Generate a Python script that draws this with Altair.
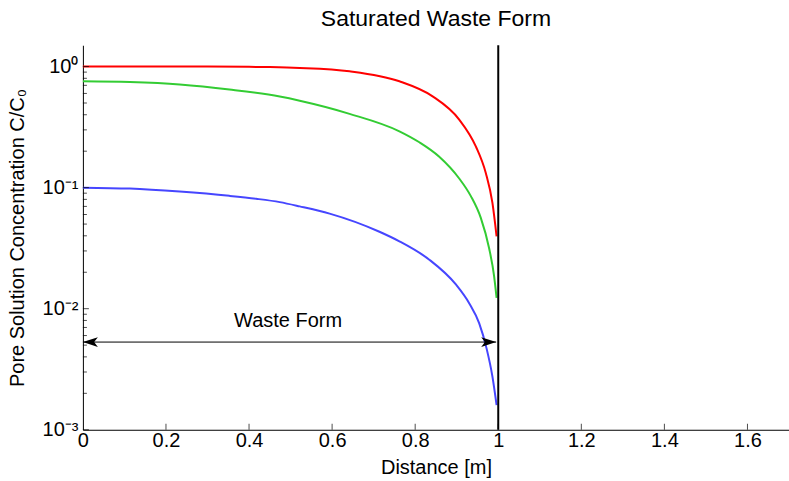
import altair as alt
import pandas as pd

# ---------------- data ----------------
series_names = ["red", "green", "blue"]
series_colors = ["#ff0000", "#33cc33", "#4646ff"]

red_x = [0.0, 0.1, 0.2, 0.3, 0.4, 0.45, 0.522, 0.642, 0.762, 0.842, 0.906, 0.946, 0.970, 0.986, 0.996]
red_c = [1.0, 1.0, 1.0, 1.0, 0.995, 0.99, 0.975, 0.915, 0.756, 0.568, 0.365, 0.219, 0.132, 0.0747, 0.0396]

green_x = [0.0, 0.113, 0.233, 0.353, 0.474, 0.522, 0.642, 0.762, 0.810, 0.858, 0.906, 0.934, 0.958, 0.978, 0.990, 0.996]
green_c = [0.757, 0.745, 0.711, 0.646, 0.565, 0.522, 0.407, 0.292, 0.237, 0.180, 0.119, 0.0851, 0.0562, 0.0316, 0.0186, 0.0123]

blue_x = [0.0, 0.113, 0.233, 0.353, 0.417, 0.474, 0.522, 0.594, 0.714, 0.762, 0.834, 0.898, 0.930, 0.954, 0.972, 0.986, 0.996]
blue_c = [0.1, 0.0982, 0.0927, 0.0855, 0.0809, 0.0759, 0.0700, 0.0610, 0.0432, 0.036, 0.0254, 0.01585, 0.0111, 0.00759, 0.00468, 0.00275, 0.0016]

x_tick_values = [0, 0.2, 0.4, 0.6, 0.8, 1.0, 1.2, 1.4, 1.6]
y_major_values = [1.0, 0.1, 0.01, 0.001]
y_major_exps = [0, -1, -2, -3]
y_tick_labels = ["10⁰", "10⁻¹", "10⁻²", "10⁻³"]
y_minor_values = [0.002, 0.003, 0.004, 0.005, 0.006, 0.007, 0.008, 0.009,
                  0.02, 0.03, 0.04, 0.05, 0.06, 0.07, 0.08, 0.09,
                  0.2, 0.3, 0.4, 0.5, 0.6, 0.7, 0.8, 0.9]

boundary_x = [1.0]
arrow_start = [0.0]
arrow_end = [0.995]
arrow_level = [0.0053]
annot_text = ["Waste Form"]
annot_x = [0.494]
annot_y = [0.0079]

title_text = "Saturated Waste Form"
x_title = "Distance [m]"
y_title = "Pore Solution Concentration C/C₀"

# ---------------- build tables ----------------
rows = []
for name, xs, cs in [("red", red_x, red_c), ("green", green_x, green_c), ("blue", blue_x, blue_c)]:
    for i, (xv, cv) in enumerate(zip(xs, cs)):
        rows.append({"x": xv, "c": cv, "series": name, "order": i})
curves = pd.DataFrame(rows)

W, H = 707, 385
FONT = "Liberation Sans"
FS = 20

x_scale = alt.Scale(domain=[0, 1.7], nice=False, zero=False)
y_scale = alt.Scale(type="log", domain=[0.001, 1.5], nice=False)

label_expr = " : ".join(
    f"round(log(datum.value)/LN10) == {e} ? '{lab}'" for e, lab in zip(y_major_exps, y_tick_labels)
) + " : ''"

x_axis = alt.Axis(values=x_tick_values, format=".1~f", title=x_title, ticks=False, tickSize=0,
                  grid=False, domainColor="black", domainWidth=1, labelFont=FONT, labelFontSize=FS,
                  labelColor="black", labelPadding=1, labelFlush=False, labelOverlap=False,
                  titleFont=FONT, titleFontSize=FS, titleFontWeight="normal", titleColor="black",
                  titleY=38, titleBaseline="middle")
y_axis = alt.Axis(values=y_major_values, labelExpr=label_expr, title=y_title, ticks=False, tickSize=0,
                  grid=False, domainColor="black", domainWidth=1, labelFont=FONT, labelFontSize=FS,
                  labelColor="black", labelPadding=5, labelFlush=False, labelOverlap=False,
                  titleFont=FONT, titleFontSize=FS, titleFontWeight="normal", titleColor="black",
                  titleX=-65, titleY=H / 2, titleAngle=-90, titleBaseline="middle", titleAlign="center")

lines = alt.Chart(curves).mark_line(strokeWidth=2, interpolate="monotone").encode(
    x=alt.X("x:Q", scale=x_scale, axis=x_axis),
    y=alt.Y("c:Q", scale=y_scale, axis=y_axis),
    color=alt.Color("series:N", scale=alt.Scale(domain=series_names, range=series_colors), legend=None),
    order="order:Q",
)

# inward ticks
xt = pd.DataFrame({"x": [v for v in x_tick_values if v > 0]})
x_ticks = alt.Chart(xt).mark_tick(orient="vertical", color="black", size=6, thickness=1).encode(
    x=alt.X("x:Q", scale=x_scale), y=alt.value(H - 3))
ymaj = pd.DataFrame({"c": y_major_values})
y_major = alt.Chart(ymaj).mark_tick(orient="horizontal", color="black", size=6, thickness=1).encode(
    y=alt.Y("c:Q", scale=y_scale), x=alt.value(3))
ymin = pd.DataFrame({"c": y_minor_values})
y_minor = alt.Chart(ymin).mark_tick(orient="horizontal", color="black", size=4, thickness=1).encode(
    y=alt.Y("c:Q", scale=y_scale), x=alt.value(2))

# boundary line at x = 1
bdf = pd.DataFrame({"x": boundary_x})
boundary = alt.Chart(bdf).mark_rule(color="black", strokeWidth=2).encode(
    x=alt.X("x:Q", scale=x_scale), y=alt.value(0), y2=alt.value(H))

# double arrow
adf = pd.DataFrame({"x": arrow_start, "x2": arrow_end, "y": arrow_level})
arrow_line = alt.Chart(adf).mark_rule(color="black", strokeWidth=1).encode(
    x=alt.X("x:Q", scale=x_scale), x2="x2:Q", y=alt.Y("y:Q", scale=y_scale))
left_head = alt.Chart(adf).mark_point(
    shape="M0,0 L2,-0.65 L1.5,0 L2,0.65 Z", filled=True, color="black", size=225, opacity=1
).encode(x=alt.X("x:Q", scale=x_scale), y=alt.Y("y:Q", scale=y_scale))
right_head = alt.Chart(adf).mark_point(
    shape="M0,0 L-2,-0.65 L-1.5,0 L-2,0.65 Z", filled=True, color="black", size=225, opacity=1
).encode(x=alt.X("x2:Q", scale=x_scale), y=alt.Y("y:Q", scale=y_scale))

tdf = pd.DataFrame({"x": annot_x, "y": annot_y, "t": annot_text})
annot = alt.Chart(tdf).mark_text(font=FONT, fontSize=FS, color="black", align="center", baseline="middle").encode(
    x=alt.X("x:Q", scale=x_scale), y=alt.Y("y:Q", scale=y_scale), text="t:N")

chart = alt.layer(
    lines, boundary, arrow_line, left_head, right_head, annot, x_ticks, y_major, y_minor
).properties(
    width=W, height=H,
    title=alt.TitleParams(title_text, font=FONT, fontSize=23, fontWeight="normal", color="black",
                          anchor="middle", offset=13),
    autosize=alt.AutoSizeParams(type="none"),
    padding={"left": 83, "top": 45, "right": 0, "bottom": 51},
    background="white",
).configure_view(stroke=None)

chart.save("out.html", embed_options={"renderer": "svg", "actions": False})
